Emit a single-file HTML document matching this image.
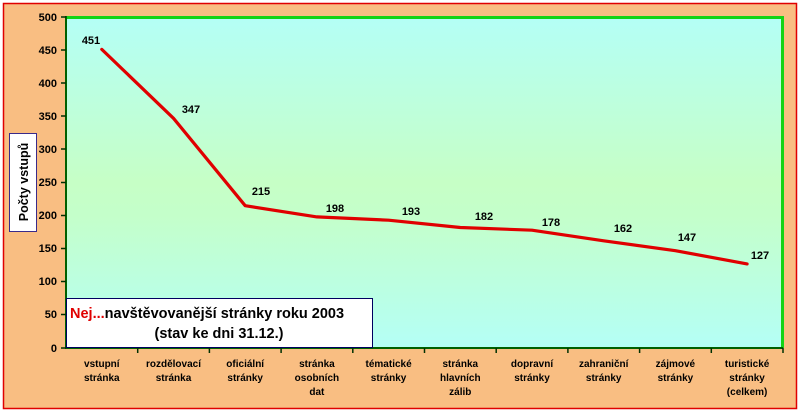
<!DOCTYPE html>
<html><head><meta charset="utf-8"><style>
html,body{margin:0;padding:0;background:#fff}
svg{display:block}
text{font-family:"Liberation Sans",Arial,sans-serif;font-weight:bold}
</style></head><body>
<svg width="800" height="413" viewBox="0 0 800 413" xmlns="http://www.w3.org/2000/svg">
<defs>
<linearGradient id="g" x1="0" y1="0" x2="0" y2="1">
<stop offset="0" stop-color="#b4fff6"/>
<stop offset="0.5" stop-color="#c6ffc6"/>
<stop offset="0.6" stop-color="#c4ffca"/>
<stop offset="1" stop-color="#b4fff6"/>
</linearGradient>
</defs>
<rect x="0" y="0" width="800" height="413" fill="#fff"/>
<rect x="3.5" y="3.5" width="793" height="405" fill="#f9be82" stroke="#e00000" stroke-width="1.5"/>
<rect x="66" y="17" width="717" height="331" fill="url(#g)"/>
<polyline points="66,17.5 782.5,17.5 782.5,348" fill="none" stroke="#14d414" stroke-width="3"/>
<line x1="66" y1="16" x2="66" y2="349" stroke="#006000" stroke-width="2"/>
<line x1="65" y1="348" x2="783" y2="348" stroke="#006000" stroke-width="2"/>
<g stroke="#003000" stroke-width="1.5">
<line x1="61" y1="17" x2="66" y2="17"/><line x1="61" y1="50" x2="66" y2="50"/><line x1="61" y1="83" x2="66" y2="83"/><line x1="61" y1="116" x2="66" y2="116"/><line x1="61" y1="149" x2="66" y2="149"/><line x1="61" y1="182.5" x2="66" y2="182.5"/><line x1="61" y1="215.5" x2="66" y2="215.5"/><line x1="61" y1="248.5" x2="66" y2="248.5"/><line x1="61" y1="281.5" x2="66" y2="281.5"/><line x1="61" y1="314.5" x2="66" y2="314.5"/><line x1="61" y1="348" x2="66" y2="348"/>
<line x1="137.7" y1="348" x2="137.7" y2="353"/><line x1="209.4" y1="348" x2="209.4" y2="353"/><line x1="281.1" y1="348" x2="281.1" y2="353"/><line x1="352.8" y1="348" x2="352.8" y2="353"/><line x1="424.5" y1="348" x2="424.5" y2="353"/><line x1="496.2" y1="348" x2="496.2" y2="353"/><line x1="567.9" y1="348" x2="567.9" y2="353"/><line x1="639.6" y1="348" x2="639.6" y2="353"/><line x1="711.3" y1="348" x2="711.3" y2="353"/><line x1="783" y1="348" x2="783" y2="353"/>
</g>
<g font-size="11" fill="#000" text-anchor="end">
<text x="57" y="21">500</text><text x="57" y="54">450</text><text x="57" y="87">400</text><text x="57" y="120">350</text><text x="57" y="153">300</text><text x="57" y="186">250</text><text x="57" y="219">200</text><text x="57" y="252">150</text><text x="57" y="285">100</text><text x="57" y="318">50</text><text x="57" y="352">0</text>
</g>
<rect x="9.5" y="133.5" width="27" height="98" fill="#fff" stroke="#3a2a8a" stroke-width="1"/>
<text transform="translate(28,182) rotate(-90)" font-size="12.5" text-anchor="middle" fill="#000">Počty vstupů</text>
<polyline points="101.8,49.4 173.5,118.3 245.2,205.7 316.9,216.9 388.6,220.2 460.3,227.5 532,230.2 603.7,240.8 675.4,250.7 747.1,263.9" fill="none" stroke="#e00000" stroke-width="3.2" stroke-linejoin="round" stroke-linecap="round"/>
<g font-size="11" fill="#000" text-anchor="middle">
<text x="91" y="44">451</text><text x="191" y="113">347</text><text x="261" y="195">215</text><text x="335" y="212">198</text><text x="411" y="215">193</text><text x="484" y="220">182</text><text x="551" y="226">178</text><text x="623" y="232">162</text><text x="687" y="241">147</text><text x="760" y="259">127</text>
</g>
<rect x="66.5" y="298.5" width="306" height="49" fill="#fff" stroke="#000060" stroke-width="1"/>
<text x="70" y="318" font-size="14.5" fill="#000"><tspan fill="#e00000">Nej...</tspan>navštěvovanější stránky roku 2003</text>
<text x="219" y="338" font-size="14.5" fill="#000" text-anchor="middle">(stav ke dni 31.12.)</text>
<g font-size="10" fill="#000" text-anchor="middle">
<text x="101.8" y="367">vstupní</text><text x="101.8" y="381">stránka</text>
<text x="173.5" y="367">rozdělovací</text><text x="173.5" y="381">stránka</text>
<text x="245.2" y="367">oficiální</text><text x="245.2" y="381">stránky</text>
<text x="316.9" y="367">stránka</text><text x="316.9" y="381">osobních</text><text x="316.9" y="395">dat</text>
<text x="388.6" y="367">tématické</text><text x="388.6" y="381">stránky</text>
<text x="460.3" y="367">stránka</text><text x="460.3" y="381">hlavních</text><text x="460.3" y="395">zálib</text>
<text x="532" y="367">dopravní</text><text x="532" y="381">stránky</text>
<text x="603.7" y="367">zahraniční</text><text x="603.7" y="381">stránky</text>
<text x="675.4" y="367">zájmové</text><text x="675.4" y="381">stránky</text>
<text x="747.1" y="367">turistické</text><text x="747.1" y="381">stránky</text><text x="747.1" y="395">(celkem)</text>
</g>
</svg>
</body></html>
